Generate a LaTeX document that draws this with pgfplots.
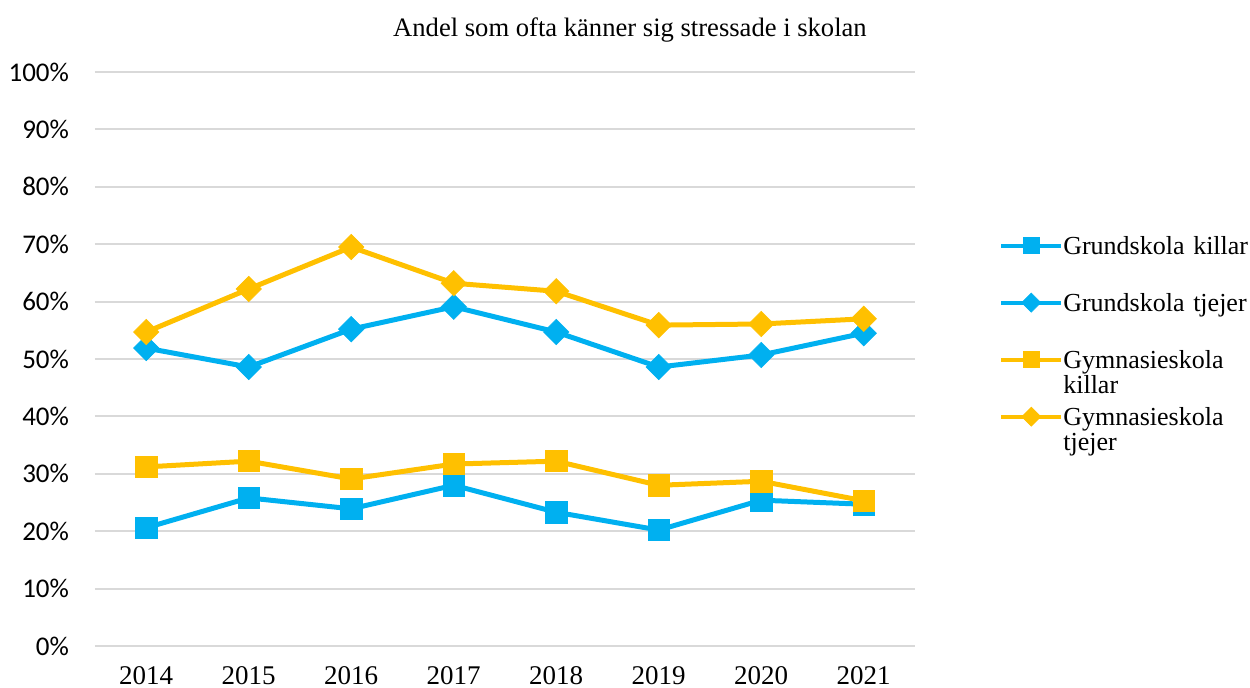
\documentclass[border=0pt]{standalone}
\usepackage{fontspec}
\setmainfont{Liberation Serif}
\newfontfamily\carlito{Carlito}
\usepackage{pgfplots}
\pgfplotsset{compat=1.18}
\definecolor{cblue}{HTML}{00B0F0}
\definecolor{cyellow}{HTML}{FFC000}
\definecolor{cgrid}{HTML}{D9D9D9}
\newcommand\nohyph{\hyphenpenalty=10000 \exhyphenpenalty=10000 \relax}
\begin{document}
\begin{tikzpicture}
\begin{axis}[
  at={(0pt,0pt)}, anchor=south west,
  scale only axis, width=410pt, height=287pt,
  xmin=-0.5, xmax=7.5, ymin=0, ymax=100,
  xtick={0,...,7},
  xticklabels={2014,2015,2016,2017,2018,2019,2020,2021},
  ytick={0,10,...,100},
  yticklabels={0\%,10\%,20\%,30\%,40\%,50\%,60\%,70\%,80\%,90\%,100\%},
  xticklabel style={font=\fontsize{13.5}{16}\selectfont, yshift=-6.5pt},
  yticklabel style={font=\carlito\fontsize{13.5}{16}\selectfont, xshift=-9.5pt},
  ymajorgrids, grid style={cgrid, line width=1pt},
  axis line style={draw=none}, major tick style={draw=none},
  legend style={at={(1.095,0.7245)}, anchor=north west, draw=none, fill=none,
    font=\fontsize{13}{12.5}\selectfont,
    nodes={text width=93.5pt, align=left, text depth=0pt, inner sep=1pt, inner xsep=0pt, execute at begin node=\nohyph},
    row sep=17.5pt},
  legend cell align=left,
  legend image code/.code={\draw[mark repeat=2,mark phase=2,line width=2pt,every mark/.append style={scale=0.75}] plot coordinates {(0pt,0pt)(15pt,0pt)(30pt,0pt)};},
]
\addplot[cblue, line width=2.5pt, mark=square*, mark size=5.3pt, mark options={solid,line width=0.3pt}] coordinates {
(0,20.6)(1,25.8)(2,23.9)(3,28.0)(4,23.3)(5,20.2)(6,25.4)(7,24.7)};
\addlegendentry{Grundskola killar}
\addplot[cblue, line width=2.5pt, mark=square*, mark size=4.5pt, mark options={solid,line width=0.3pt,rotate=45}] coordinates {
(0,51.9)(1,48.6)(2,55.2)(3,59.1)(4,54.7)(5,48.6)(6,50.7)(7,54.5)};
\addlegendentry{Grundskola tjejer}
\addplot[cyellow, line width=2.5pt, mark=square*, mark size=5.3pt, mark options={solid,line width=0.3pt}] coordinates {
(0,31.2)(1,32.2)(2,29.1)(3,31.7)(4,32.2)(5,28.0)(6,28.7)(7,25.3)};
\addlegendentry{Gymnasieskola killar}
\addplot[cyellow, line width=2.5pt, mark=square*, mark size=4.5pt, mark options={solid,line width=0.3pt,rotate=45}] coordinates {
(0,54.7)(1,62.2)(2,69.5)(3,63.2)(4,61.8)(5,55.9)(6,56.1)(7,57.0)};
\addlegendentry{Gymnasieskola tjejer}
\end{axis}
\node[font=\fontsize{13.3}{16}\selectfont] at (267.5pt,308pt) {Andel som ofta känner sig stressade i skolan};
\pgfresetboundingbox
\path (-47.5pt,-20.5pt) rectangle (577.5pt,323pt);
\end{tikzpicture}
\end{document}
